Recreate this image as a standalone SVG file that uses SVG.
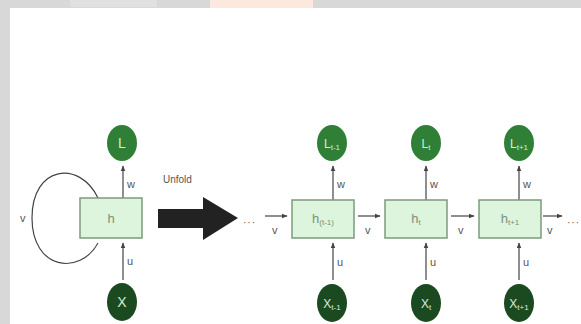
<svg xmlns="http://www.w3.org/2000/svg" width="581" height="324" viewBox="0 0 581 324">
  <defs>
    <marker id="ah" viewBox="0 0 10 10" refX="9" refY="5" markerWidth="5" markerHeight="5" orient="auto">
      <path d="M0,1 L10,5 L0,9 Z" fill="#444"/>
    </marker>
    <style>
      .box{fill:#dcf5dc;stroke:#7c9a7c;stroke-width:1.5}
      .lc{fill:#2f7f36}
      .xc{fill:#1c4a20}
      .ct{font-family:"Liberation Sans",Arial,sans-serif;font-size:14px;fill:#d6ecd6;text-anchor:middle}
      .cs{font-size:8px}
      .bt{font-family:"Liberation Sans",Arial,sans-serif;font-size:13px;fill:#7d8f7d;text-anchor:middle}
      .bs{font-size:8px}
      .lbl{font-family:"Liberation Sans",Arial,sans-serif;font-size:11px;fill:#555}
      .ln{stroke:#444;stroke-width:1.2;fill:none}
      .arr{marker-end:url(#ah)}
    </style>
  </defs>
  <rect x="0" y="0" width="581" height="324" fill="#fff"/>
  <rect x="0" y="0" width="581" height="8" fill="#d8d8d8"/>
  <rect x="0" y="0" width="10" height="324" fill="#d8d8d8"/>
  <rect x="70" y="0" width="87" height="7" fill="#e0e0e0"/>
  <rect x="210" y="0" width="103" height="8" fill="#fbe9dd"/>

  <g id="connectors">
    <path class="ln" d="M98,198 C80,160 32,165 32,218 C32,270 80,276 98,243"/>
    <text class="lbl" x="20" y="222">v</text>
    <line class="ln arr" x1="123" y1="198" x2="123" y2="166"/>
    <text class="lbl" x="127" y="188">w</text>
    <line class="ln arr" x1="123" y1="280" x2="123" y2="243"/>
    <text class="lbl" x="127" y="265">u</text>

    <polygon points="158,209 203,209 203,197 238,218 203,240 203,228 158,228" fill="#222"/>
    <text class="lbl" x="163" y="183" style="font-size:10px">Unfold</text>

    <text class="lbl" x="243" y="226" style="font-size:10px;letter-spacing:1px">···</text>
    <line class="ln arr" x1="265" y1="216" x2="287" y2="216"/>
    <text class="lbl" x="272" y="234">v</text>
    <line class="ln arr" x1="358" y1="216" x2="380" y2="216"/>
    <text class="lbl" x="365" y="234">v</text>
    <line class="ln arr" x1="451" y1="216" x2="474" y2="216"/>
    <text class="lbl" x="458" y="234">v</text>
    <line class="ln arr" x1="543" y1="216" x2="562" y2="216"/>
    <text class="lbl" x="547" y="234">v</text>
    <text class="lbl" x="567" y="226" style="font-size:10px;letter-spacing:1px">···</text>

    <line class="ln arr" x1="333" y1="200" x2="333" y2="166"/>
    <text class="lbl" x="337" y="188">w</text>
    <line class="ln arr" x1="333" y1="280" x2="333" y2="243"/>
    <text class="lbl" x="337" y="266">u</text>
    <line class="ln arr" x1="426" y1="200" x2="426" y2="166"/>
    <text class="lbl" x="430" y="188">w</text>
    <line class="ln arr" x1="426" y1="280" x2="426" y2="243"/>
    <text class="lbl" x="430" y="266">u</text>
    <line class="ln arr" x1="519" y1="200" x2="519" y2="166"/>
    <text class="lbl" x="523" y="188">w</text>
    <line class="ln arr" x1="519" y1="280" x2="519" y2="243"/>
    <text class="lbl" x="523" y="266">u</text>
  </g>

  <g id="L">
    <ellipse class="lc" cx="122" cy="143" rx="15" ry="18"/>
    <text class="ct" x="122" y="148">L</text>
  </g>
  <g id="h">
    <rect class="box" x="80" y="198" width="62" height="40"/>
    <text class="bt" x="111" y="223">h</text>
  </g>
  <g id="X">
    <ellipse class="xc" cx="122" cy="302" rx="15" ry="19"/>
    <text class="ct" x="122" y="307">X</text>
  </g>

  <g id="L_t-1">
    <ellipse class="lc" cx="332" cy="143" rx="15" ry="18"/>
    <text class="ct" x="332" y="148" style="font-size:12px">L<tspan class="cs" dy="2">t-1</tspan></text>
  </g>
  <g id="h_t-1">
    <rect class="box" x="292" y="200" width="62" height="38"/>
    <text class="bt" x="323" y="223">h<tspan class="bs" dy="2">(t-1)</tspan></text>
  </g>
  <g id="X_t-1">
    <ellipse class="xc" cx="332" cy="303" rx="15" ry="19"/>
    <text class="ct" x="332" y="308" style="font-size:12px">X<tspan class="cs" dy="2">t-1</tspan></text>
  </g>

  <g id="L_t">
    <ellipse class="lc" cx="426" cy="143" rx="15" ry="18"/>
    <text class="ct" x="426" y="148" style="font-size:12px">L<tspan class="cs" dy="2">t</tspan></text>
  </g>
  <g id="h_t">
    <rect class="box" x="385" y="200" width="62" height="38"/>
    <text class="bt" x="416" y="223">h<tspan class="bs" dy="2">t</tspan></text>
  </g>
  <g id="X_t">
    <ellipse class="xc" cx="426" cy="303" rx="15" ry="19"/>
    <text class="ct" x="426" y="308" style="font-size:12px">X<tspan class="cs" dy="2">t</tspan></text>
  </g>

  <g id="L_t+1">
    <ellipse class="lc" cx="519" cy="143" rx="15" ry="18"/>
    <text class="ct" x="519" y="148" style="font-size:12px">L<tspan class="cs" dy="2">t+1</tspan></text>
  </g>
  <g id="h_t+1">
    <rect class="box" x="479" y="200" width="62" height="38"/>
    <text class="bt" x="510" y="223">h<tspan class="bs" dy="2">t+1</tspan></text>
  </g>
  <g id="X_t+1">
    <ellipse class="xc" cx="519" cy="303" rx="15" ry="19"/>
    <text class="ct" x="519" y="308" style="font-size:12px">X<tspan class="cs" dy="2">t+1</tspan></text>
  </g>
</svg>
